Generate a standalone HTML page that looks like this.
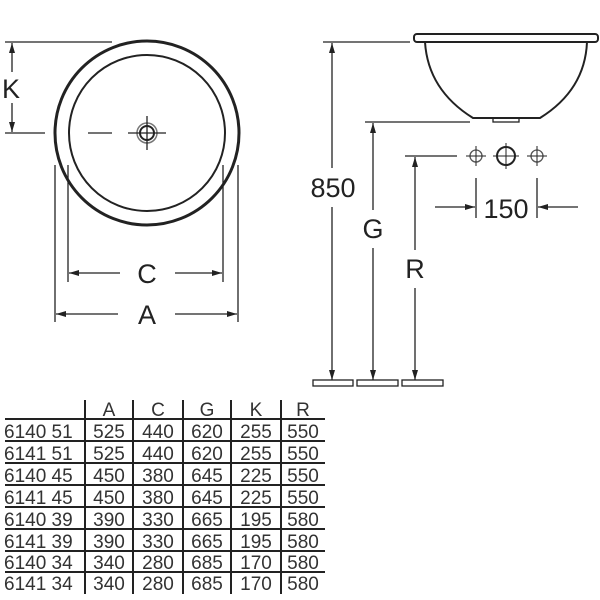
<!DOCTYPE html>
<html><head><meta charset="utf-8"><style>
html,body{margin:0;padding:0;background:#fff;}
svg{display:block;font-family:"Liberation Sans",sans-serif;}
</style></head><body>
<svg width="600" height="600" viewBox="0 0 600 600" xmlns="http://www.w3.org/2000/svg">
<defs>
<marker id="ar" viewBox="0 0 10 6" refX="10" refY="3" markerWidth="10" markerHeight="6" markerUnits="userSpaceOnUse" orient="auto"><path d="M0,0 L10,3 L0,6 z" fill="#222"/></marker>
</defs>
<g stroke="#222" fill="none">
<circle cx="147" cy="133" r="92" stroke-width="3"/>
<circle cx="147" cy="133" r="78" stroke-width="2"/>
<circle cx="147" cy="133" r="10" stroke-width="1.5" stroke="#777"/>
<circle cx="147" cy="133" r="7" stroke-width="2"/>
<line x1="128" y1="133" x2="166" y2="133" stroke-width="1.3"/>
<line x1="147" y1="116" x2="147" y2="150" stroke-width="1.3"/>
<line x1="88" y1="133" x2="112" y2="133" stroke-width="1.3"/>
<line x1="5" y1="42" x2="112" y2="42" stroke-width="1.3"/>
<line x1="5" y1="133" x2="45" y2="133" stroke-width="1.3"/>
<line x1="12" y1="72" x2="12" y2="43" stroke-width="1.3" marker-end="url(#ar)"/>
<line x1="12" y1="103" x2="12" y2="132" stroke-width="1.3" marker-end="url(#ar)"/>
<line x1="68" y1="165" x2="68" y2="282" stroke-width="1.3"/>
<line x1="223" y1="165" x2="223" y2="282" stroke-width="1.3"/>
<line x1="120" y1="273" x2="69" y2="273" stroke-width="1.3" marker-end="url(#ar)"/>
<line x1="175" y1="273" x2="222" y2="273" stroke-width="1.3" marker-end="url(#ar)"/>
<line x1="55" y1="165" x2="55" y2="322" stroke-width="1.3"/>
<line x1="238" y1="165" x2="238" y2="322" stroke-width="1.3"/>
<line x1="118" y1="314" x2="56" y2="314" stroke-width="1.3" marker-end="url(#ar)"/>
<line x1="175" y1="314" x2="237" y2="314" stroke-width="1.3" marker-end="url(#ar)"/>
<rect x="414" y="34" width="184" height="8" rx="3" stroke-width="2"/>
<path d="M425,42 Q428,90 473,118 L540,118 Q585,90 587,42" stroke-width="2"/>
<rect x="493" y="118" width="26" height="4" stroke-width="1.3"/>
<line x1="323" y1="42" x2="410" y2="42" stroke-width="1.3"/>
<line x1="332" y1="168" x2="332" y2="43" stroke-width="1.3" marker-end="url(#ar)"/>
<line x1="332" y1="207" x2="332" y2="380" stroke-width="1.3" marker-end="url(#ar)"/>
<line x1="365" y1="122" x2="470" y2="122" stroke-width="1.3"/>
<line x1="373" y1="210" x2="373" y2="123" stroke-width="1.3" marker-end="url(#ar)"/>
<line x1="373" y1="248" x2="373" y2="380" stroke-width="1.3" marker-end="url(#ar)"/>
<line x1="405" y1="156" x2="457" y2="156" stroke-width="1.3"/>
<line x1="415" y1="250" x2="415" y2="157" stroke-width="1.3" marker-end="url(#ar)"/>
<line x1="415" y1="288" x2="415" y2="380" stroke-width="1.3" marker-end="url(#ar)"/>
<circle cx="476" cy="156" r="6" stroke-width="1.3" stroke="#555"/>
<line x1="466" y1="156" x2="486" y2="156" stroke-width="1"/><line x1="476" y1="146" x2="476" y2="166" stroke-width="1"/>
<circle cx="506" cy="156" r="9" stroke-width="2"/>
<line x1="493" y1="156" x2="519" y2="156" stroke-width="1"/><line x1="506" y1="143" x2="506" y2="169" stroke-width="1"/>
<circle cx="537" cy="156" r="6" stroke-width="1.3" stroke="#555"/>
<line x1="527" y1="156" x2="547" y2="156" stroke-width="1"/><line x1="537" y1="146" x2="537" y2="166" stroke-width="1"/>
<line x1="476" y1="178" x2="476" y2="218" stroke-width="1.3"/>
<line x1="537" y1="178" x2="537" y2="218" stroke-width="1.3"/>
<line x1="435" y1="207" x2="475" y2="207" stroke-width="1.3" marker-end="url(#ar)"/>
<line x1="578" y1="207" x2="538" y2="207" stroke-width="1.3" marker-end="url(#ar)"/>
<rect x="313" y="380" width="40" height="6" stroke-width="1.3"/>
<rect x="357" y="380" width="41" height="6" stroke-width="1.3"/>
<rect x="402" y="380" width="41" height="6" stroke-width="1.3"/>
<g stroke-width="2">
<line x1="5" y1="419" x2="325" y2="419"/>
<line x1="5" y1="441" x2="325" y2="441"/>
<line x1="5" y1="463" x2="325" y2="463"/>
<line x1="5" y1="485" x2="325" y2="485"/>
<line x1="5" y1="507" x2="325" y2="507"/>
<line x1="5" y1="529" x2="325" y2="529"/>
<line x1="5" y1="551" x2="325" y2="551"/>
<line x1="5" y1="572" x2="325" y2="572"/>
<line x1="85" y1="400" x2="85" y2="594"/>
<line x1="133" y1="400" x2="133" y2="594"/>
<line x1="183" y1="400" x2="183" y2="594"/>
<line x1="231" y1="400" x2="231" y2="594"/>
<line x1="281" y1="400" x2="281" y2="594"/>
</g>
</g>
<g fill="#222" font-size="27" text-anchor="middle">
<text x="11" y="98">K</text>
<text x="147" y="283">C</text>
<text x="147" y="324">A</text>
<text x="333" y="197">850</text>
<text x="373" y="238">G</text>
<text x="415" y="278">R</text>
<text x="506" y="218">150</text>
</g>
<g fill="#333" font-size="19">
<g text-anchor="middle">
<text x="109" y="416">A</text><text x="158" y="416">C</text><text x="207" y="416">G</text><text x="256" y="416">K</text><text x="303" y="416">R</text>
</g>
<g textLength="76">
<text x="4" y="438">6140 51</text><text x="4" y="460">6141 51</text><text x="4" y="482">6140 45</text><text x="4" y="504">6141 45</text>
<text x="4" y="526">6140 39</text><text x="4" y="548">6141 39</text><text x="4" y="569">6140 34</text><text x="4" y="590">6141 34</text>
</g>
<g text-anchor="middle">
<text x="109" y="438">525</text><text x="158" y="438">440</text><text x="207" y="438">620</text><text x="256" y="438">255</text><text x="303" y="438">550</text>
<text x="109" y="460">525</text><text x="158" y="460">440</text><text x="207" y="460">620</text><text x="256" y="460">255</text><text x="303" y="460">550</text>
<text x="109" y="482">450</text><text x="158" y="482">380</text><text x="207" y="482">645</text><text x="256" y="482">225</text><text x="303" y="482">550</text>
<text x="109" y="504">450</text><text x="158" y="504">380</text><text x="207" y="504">645</text><text x="256" y="504">225</text><text x="303" y="504">550</text>
<text x="109" y="526">390</text><text x="158" y="526">330</text><text x="207" y="526">665</text><text x="256" y="526">195</text><text x="303" y="526">580</text>
<text x="109" y="548">390</text><text x="158" y="548">330</text><text x="207" y="548">665</text><text x="256" y="548">195</text><text x="303" y="548">580</text>
<text x="109" y="569">340</text><text x="158" y="569">280</text><text x="207" y="569">685</text><text x="256" y="569">170</text><text x="303" y="569">580</text>
<text x="109" y="590">340</text><text x="158" y="590">280</text><text x="207" y="590">685</text><text x="256" y="590">170</text><text x="303" y="590">580</text>
</g>
</g>
</svg>
</body></html>
